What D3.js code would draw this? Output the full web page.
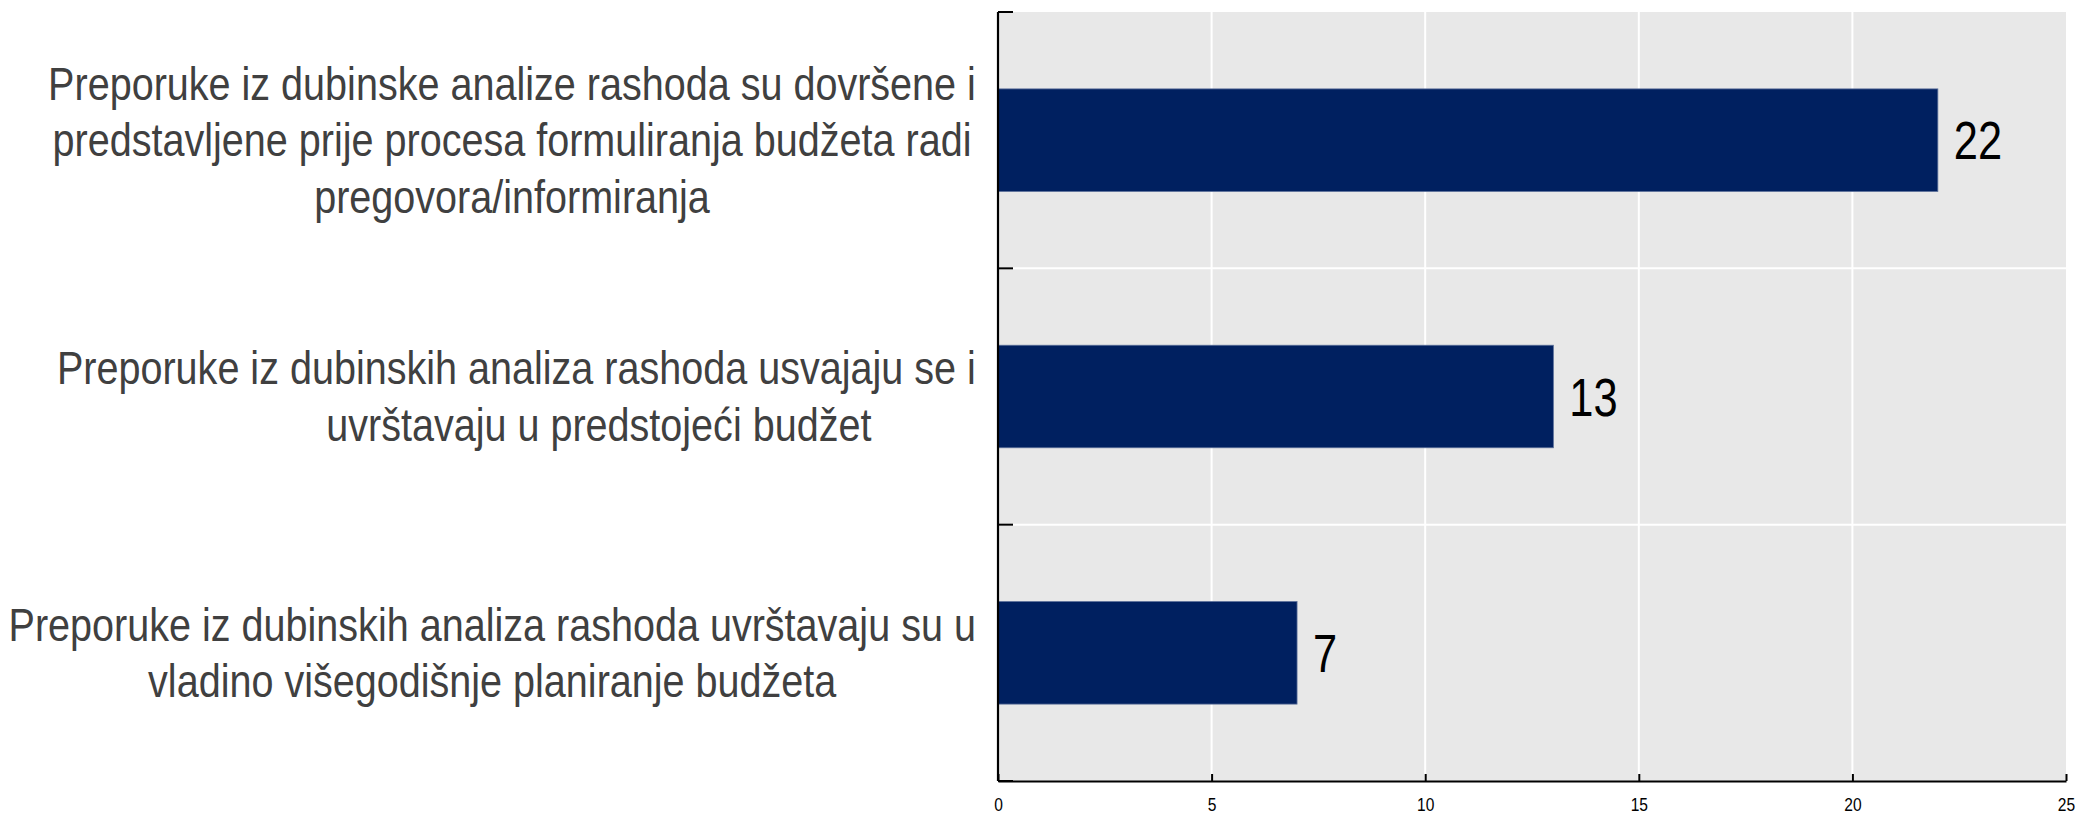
<!DOCTYPE html>
<html>
<head>
<meta charset="utf-8">
<script src="https://cdn.jsdelivr.net/npm/d3@7"></script>
<style>
  html, body { margin: 0; padding: 0; background: #fff; }
  svg { display: block; }
</style>
</head>
<body>
<svg id="chart" width="2079" height="815"></svg>
<script>
// ---- data ----
const categories = [
  "Preporuke iz dubinske analize rashoda su dovršene i predstavljene prije procesa formuliranja budžeta radi pregovora/informiranja",
  "Preporuke iz dubinskih analiza rashoda usvajaju se i uvrštavaju u predstojeći budžet",
  "Preporuke iz dubinskih analiza rashoda uvrštavaju su u vladino višegodišnje planiranje budžeta"
];
const categoryLines = [
  ["Preporuke iz dubinske analize rashoda su dovršene i", "predstavljene prije procesa formuliranja budžeta radi", "pregovora/informiranja"],
  ["Preporuke iz dubinskih analiza rashoda usvajaju se i", "\u00A0\u00A0\u00A0\u00A0\u00A0\u00A0\u00A0\u00A0\u00A0\u00A0\u00A0\u00A0\u00A0\u00A0\u00A0uvrštavaju u predstojeći budžet"],
  ["Preporuke iz dubinskih analiza rashoda uvrštavaju su u", "vladino višegodišnje planiranje budžeta"]
];
const values = [22, 13, 7];
const xTicks = [0, 5, 10, 15, 20, 25];

// ---- layout ----
const svg = d3.select("#chart");
const mLeft = 998, mRight = 2066, mTop = 12, mBottom = 781;
const FONT = "'Liberation Sans', Arial, sans-serif";
const NARROW = 0.82;       // condensing for numbers
const NARROW_LBL = 0.86;   // condensing for category labels

const x = d3.scaleLinear().domain([0, 25]).range([mLeft, mRight]);
const y = d3.scaleBand().domain(categories).range([mTop, mBottom])
  .paddingInner(0.6).paddingOuter(0.3);
const yCells = d3.scaleBand().domain(categories).range([mTop, mBottom]).padding(0);

// background
svg.append("rect").attr("x", mLeft).attr("y", mTop)
  .attr("width", mRight - mLeft).attr("height", mBottom - mTop).attr("fill", "#e8e8e8");

// vertical gridlines
svg.append("g").selectAll("line").data(xTicks.filter(d => d > 0 && d < 25)).join("line")
  .attr("x1", d => x(d)).attr("x2", d => x(d)).attr("y1", mTop).attr("y2", mBottom)
  .attr("stroke", "#fff").attr("stroke-width", 2);

// horizontal gridlines at category boundaries
svg.append("g").selectAll("line").data(categories.slice(1)).join("line")
  .attr("x1", mLeft).attr("x2", mRight)
  .attr("y1", d => yCells(d)).attr("y2", d => yCells(d))
  .attr("stroke", "#fff").attr("stroke-width", 2);

// bars
svg.append("g").selectAll("rect").data(categories).join("rect")
  .attr("x", x(0)).attr("y", d => y(d))
  .attr("width", (d, i) => x(values[i]) - x(0)).attr("height", y.bandwidth())
  .attr("fill", "#002060").attr("stroke", "#5a6f99").attr("stroke-width", 0.8);

// value labels
svg.append("g").selectAll("text").data(categories).join("text")
  .attr("transform", (d, i) => `translate(${x(values[i]) + 16},${y(d) + y.bandwidth() / 2 + 19}) scale(${NARROW},1)`)
  .attr("font-family", FONT).attr("font-size", 53).attr("fill", "#000")
  .text((d, i) => values[i]);

// x axis
const xAxis = d3.axisBottom(x).tickValues(xTicks).tickSizeInner(-7).tickSizeOuter(0).tickPadding(0);
const gx = svg.append("g").attr("transform", `translate(0,${mBottom})`).call(xAxis);
gx.select(".domain").attr("stroke", "#000").attr("stroke-width", 2.2);
gx.selectAll(".tick line").attr("stroke", "#000").attr("stroke-width", 2);
gx.selectAll(".tick text").attr("font-family", FONT).attr("font-size", 19).attr("fill", "#000")
  .attr("y", 0).attr("dy", null)
  .attr("transform", `translate(0,30) scale(${NARROW},1)`);

// y axis (ticks at category boundaries, pointing inwards)
svg.append("line").attr("x1", mLeft).attr("x2", mLeft).attr("y1", mTop).attr("y2", mBottom)
  .attr("stroke", "#000").attr("stroke-width", 2.2);
const boundaries = categories.map(d => yCells(d)).concat([mBottom]);
svg.append("g").selectAll("line").data(boundaries).join("line")
  .attr("x1", mLeft).attr("x2", mLeft + 15).attr("y1", d => d).attr("y2", d => d)
  .attr("stroke", "#000").attr("stroke-width", 2);

// category labels (lines centered within a right-aligned block)
const labelRight = 976, lineH = 56.5;
categories.forEach((c, i) => {
  const lines = categoryLines[i];
  const g = svg.append("g");
  const cy = yCells(c) + yCells.bandwidth() / 2;
  const texts = g.selectAll("text").data(lines).join("text")
    .attr("font-family", FONT).attr("font-size", 46).attr("fill", "#404040")
    .attr("text-anchor", "middle")
    .text(d => d);
  let maxW = 0;
  texts.each(function () { maxW = Math.max(maxW, this.getComputedTextLength() * NARROW_LBL); });
  const cx = labelRight - maxW / 2;
  texts.attr("transform", (d, j) =>
    `translate(${cx},${cy + (j - (lines.length - 1) / 2) * lineH + 16}) scale(${NARROW_LBL},1)`);
});
</script>
</body>
</html>
